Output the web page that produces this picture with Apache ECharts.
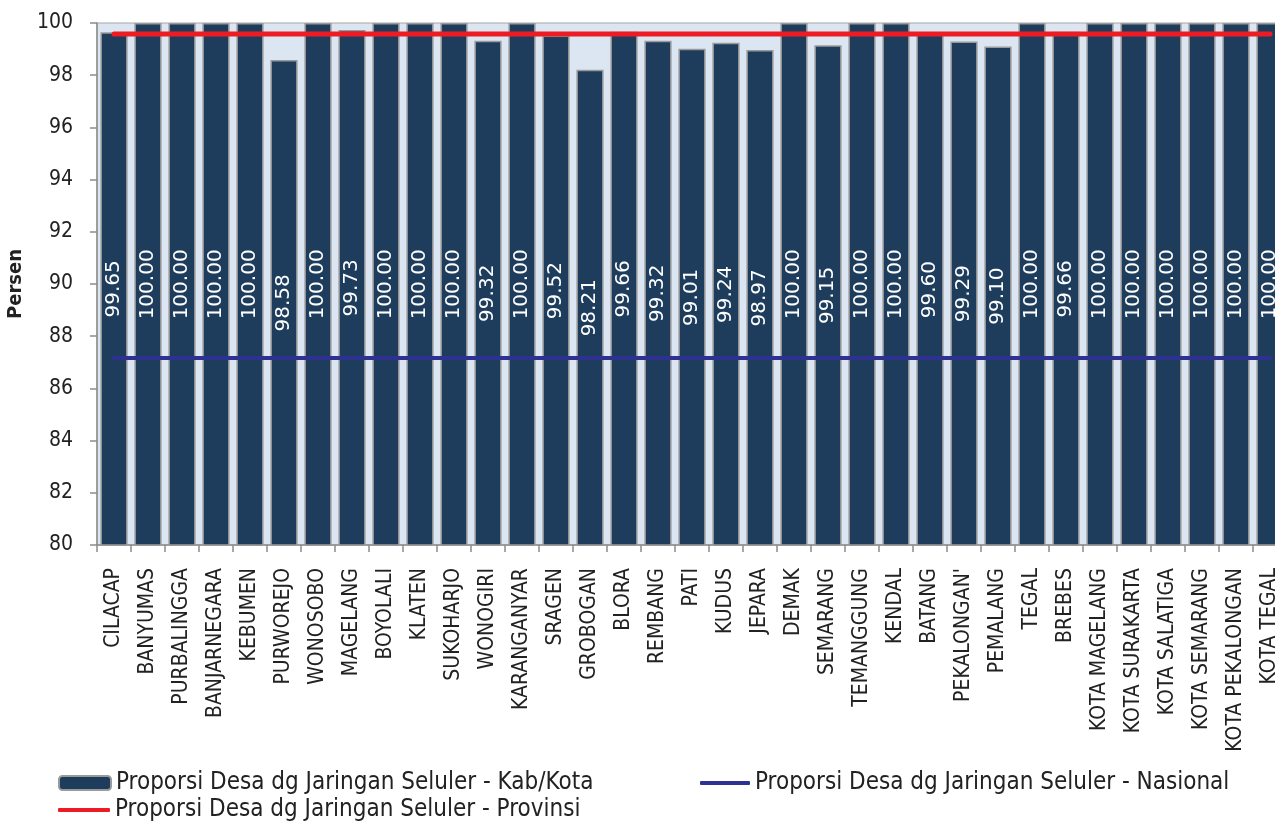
<!DOCTYPE html>
<html>
<head>
<meta charset="utf-8">
<script src="https://cdn.jsdelivr.net/npm/echarts@6/dist/echarts.min.js"></script>
<style>
  html, body { margin: 0; padding: 0; background: #ffffff; }
  #chart { width: 1275px; height: 825px; }
</style>
</head>
<body>
<div id="chart"></div>
<script>
// Kabupaten / kota in Jawa Tengah
const categories = [
  'CILACAP', 'BANYUMAS', 'PURBALINGGA', 'BANJARNEGARA', 'KEBUMEN', 'PURWOREJO',
  'WONOSOBO', 'MAGELANG', 'BOYOLALI', 'KLATEN', 'SUKOHARJO', 'WONOGIRI',
  'KARANGANYAR', 'SRAGEN', 'GROBOGAN', 'BLORA', 'REMBANG', 'PATI', 'KUDUS',
  'JEPARA', 'DEMAK', 'SEMARANG', 'TEMANGGUNG', 'KENDAL', 'BATANG', "PEKALONGAN'",
  'PEMALANG', 'TEGAL', 'BREBES', 'KOTA MAGELANG', 'KOTA SURAKARTA', 'KOTA SALATIGA',
  'KOTA SEMARANG', 'KOTA PEKALONGAN', 'KOTA TEGAL'
];

// Proporsi desa dengan jaringan seluler per kab/kota (%)
const kabKota = [
  99.65, 100.00, 100.00, 100.00, 100.00, 98.58,
  100.00, 99.73, 100.00, 100.00, 100.00, 99.32,
  100.00, 99.52, 98.21, 99.66, 99.32, 99.01, 99.24,
  98.97, 100.00, 99.15, 100.00, 100.00, 99.60, 99.29,
  99.10, 100.00, 99.66, 100.00, 100.00, 100.00,
  100.00, 100.00, 100.00
];

// Reference levels, one value per category
const provinsi = [
  99.58, 99.58, 99.58, 99.58, 99.58, 99.58, 99.58, 99.58, 99.58, 99.58,
  99.58, 99.58, 99.58, 99.58, 99.58, 99.58, 99.58, 99.58, 99.58, 99.58,
  99.58, 99.58, 99.58, 99.58, 99.58, 99.58, 99.58, 99.58, 99.58, 99.58,
  99.58, 99.58, 99.58, 99.58, 99.58
];
const nasional = [
  87.16, 87.16, 87.16, 87.16, 87.16, 87.16, 87.16, 87.16, 87.16, 87.16,
  87.16, 87.16, 87.16, 87.16, 87.16, 87.16, 87.16, 87.16, 87.16, 87.16,
  87.16, 87.16, 87.16, 87.16, 87.16, 87.16, 87.16, 87.16, 87.16, 87.16,
  87.16, 87.16, 87.16, 87.16, 87.16
];

const yTicks = [80, 82, 84, 86, 88, 90, 92, 94, 96, 98, 100];

const NAME_BAR = 'Proporsi Desa dg Jaringan Seluler - Kab/Kota';
const NAME_NAS = 'Proporsi Desa dg Jaringan Seluler - Nasional';
const NAME_PROV = 'Proporsi Desa dg Jaringan Seluler - Provinsi';

const FONT = '"DejaVu Sans Condensed", "DejaVu Sans", sans-serif';
const FONT_WIDE = '"DejaVu Sans", sans-serif';
const legendText = { fontFamily: FONT, fontSize: 24, color: '#222222' };

const chart = echarts.init(document.getElementById('chart'), null, { renderer: 'canvas' });
chart.setOption({
  animation: false,
  backgroundColor: '#ffffff',
  grid: {
    left: 97, top: 23, width: 1190, height: 522,
    outerBoundsMode: 'none', containLabel: false,
    show: true, backgroundColor: '#dce6f2', borderColor: '#a6a6a6', borderWidth: 1
  },
  legend: [
    {
      data: [NAME_BAR], left: 58, top: 771, itemWidth: 52, itemHeight: 14,
      textStyle: legendText, padding: 0
    },
    {
      data: [{ name: NAME_NAS, icon: 'roundRect' }], left: 700, top: 771,
      itemWidth: 50, itemHeight: 4, textStyle: legendText, padding: 0
    },
    {
      data: [{ name: NAME_PROV, icon: 'roundRect' }], left: 58, top: 798,
      itemWidth: 52, itemHeight: 4, textStyle: legendText, padding: 0
    }
  ],
  xAxis: {
    type: 'category',
    data: categories,
    boundaryGap: true,
    axisLine: { show: true, lineStyle: { color: '#8c8c8c', width: 1.5 } },
    axisTick: { show: true, alignWithLabel: false, length: 7, lineStyle: { color: '#8c8c8c', width: 1.5 } },
    axisLabel: {
      interval: 0, rotate: 90, margin: 23,
      fontFamily: FONT, fontSize: 21, color: '#222222'
    },
    splitLine: { show: false }
  },
  yAxis: {
    type: 'value',
    min: yTicks[0], max: yTicks[yTicks.length - 1], interval: 2,
    name: 'Persen', nameLocation: 'middle', nameGap: 62, nameRotate: 90,
    nameTextStyle: { fontFamily: FONT, fontSize: 20, fontWeight: 'bold', color: '#222222' },
    axisLine: { show: true, lineStyle: { color: '#8c8c8c', width: 1.5 } },
    axisTick: { show: true, inside: false, length: 7, lineStyle: { color: '#8c8c8c', width: 1.5 } },
    axisLabel: { margin: 24, fontFamily: FONT, fontSize: 21, color: '#222222' },
    splitLine: { show: false }
  },
  series: [
    {
      name: NAME_BAR,
      type: 'bar',
      data: kabKota,
      barCategoryGap: '20%',
      itemStyle: { color: '#1e3d5d', borderColor: '#9a9a9a', borderWidth: 1.5 },
      label: {
        show: true, position: 'inside', rotate: 90,
        formatter: p => p.value.toFixed(2),
        fontFamily: FONT_WIDE, fontSize: 20, color: '#ffffff'
      },
      z: 2
    },
    {
      name: NAME_NAS,
      type: 'line',
      data: nasional,
      symbol: 'none',
      lineStyle: { color: '#2e3192', width: 4, cap: 'round' },
      itemStyle: { color: '#2e3192' },
      z: 3
    },
    {
      name: NAME_PROV,
      type: 'line',
      data: provinsi,
      symbol: 'none',
      lineStyle: { color: '#ed1c24', width: 5, cap: 'round' },
      itemStyle: { color: '#ed1c24' },
      z: 4
    }
  ]
});
</script>
</body>
</html>
